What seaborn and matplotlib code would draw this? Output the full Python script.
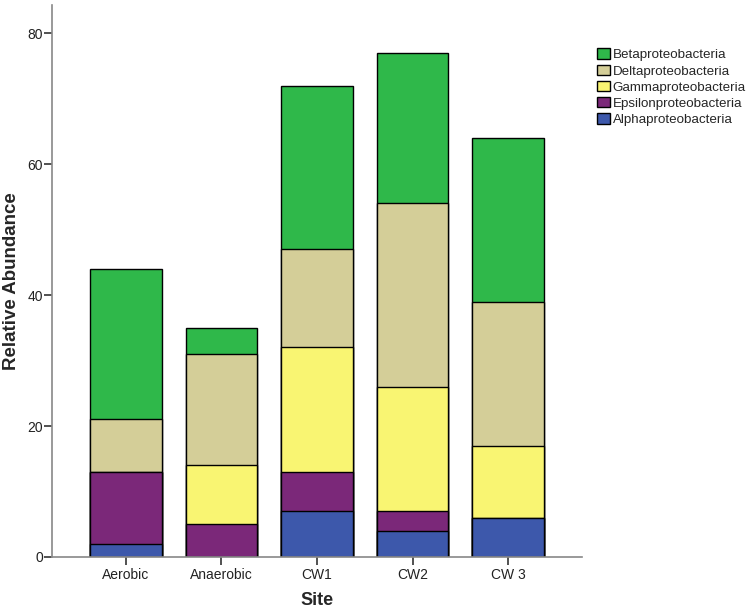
import numpy as np
import pandas as pd
import matplotlib
matplotlib.use("Agg")
import matplotlib.pyplot as plt
import seaborn as sns
from matplotlib.patches import Patch

sites = ["Aerobic", "Anaerobic", "CW1", "CW2", "CW 3"]
alpha = [2, 0, 7, 4, 6]
epsilon = [11, 5, 6, 3, 0]
gamma = [0, 9, 19, 19, 11]
delta = [8, 17, 15, 28, 22]
beta = [23, 4, 25, 23, 25]

series_names = ["Alphaproteobacteria", "Epsilonproteobacteria", "Gammaproteobacteria",
                "Deltaproteobacteria", "Betaproteobacteria"]
series_values = [alpha, epsilon, gamma, delta, beta]
colors = ["#3D58AB", "#7B2879", "#F9F572", "#D4CE98", "#2FB84A"]

sns.set_style("white")
plt.rcParams["font.family"] = ["Liberation Sans", "DejaVu Sans"]

fig = plt.figure(figsize=(7.53, 6.16), dpi=100)
ax = fig.add_axes([0.069, 0.0958, 0.704, 0.896])

cum = np.cumsum(np.array(series_values), axis=0)
# draw from top layer downward so lower layers overlay
for i in range(len(series_names) - 1, -1, -1):
    df = pd.DataFrame({"Site": sites, "Value": cum[i]})
    sns.barplot(data=df, x="Site", y="Value", color=colors[i], width=0.745,
                edgecolor="black", linewidth=1.0, saturation=1, ax=ax, zorder=2)

ax.set_xlim(-0.775, 4.775)
ax.set_ylim(0, 84.3)
ax.set_yticks([0, 20, 40, 60, 80])
ax.tick_params(axis="both", direction="out", length=6, width=1.2, color="#333333",
               labelsize=10, labelcolor="#222222", left=True, bottom=True)
ax.tick_params(axis="y", pad=0.5)
ax.tick_params(axis="x", pad=2)
for s in ["top", "right"]:
    ax.spines[s].set_visible(False)
for s in ["left", "bottom"]:
    ax.spines[s].set_color("#888888")
    ax.spines[s].set_linewidth(1.2)

ax.set_xlabel("Site", fontsize=13, fontweight="bold")
ax.set_ylabel("Relative Abundance", fontsize=13.5, fontweight="bold")
ax.xaxis.label.set_va("center")
ax.yaxis.label.set_va("center")
ax.xaxis.set_label_coords(0.5, -0.078)
ax.yaxis.set_label_coords(-0.077, 0.5)

handles = [Patch(facecolor=colors[i], edgecolor="black", linewidth=1.0, label=series_names[i])
           for i in range(len(series_names) - 1, -1, -1)]
fig.legend(handles=handles, loc="upper left", bbox_to_anchor=(0.786, 0.93), frameon=False,
           fontsize=9.6, handlelength=0.95, handleheight=0.85, handletextpad=0.2,
           labelspacing=0.24, borderaxespad=0)

fig.savefig("out.png", dpi=100)
